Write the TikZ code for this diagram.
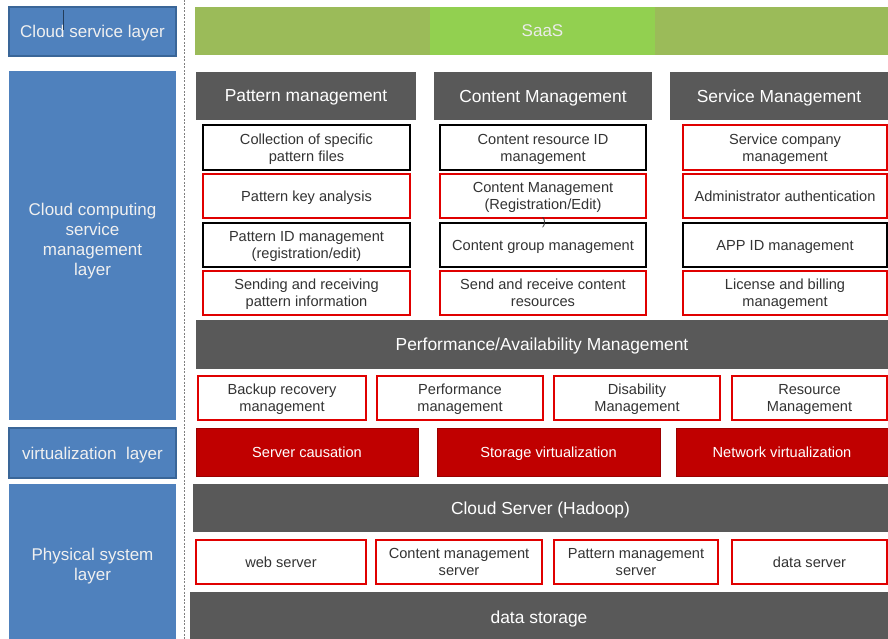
\documentclass[tikz,border=0pt]{standalone}
\usepackage{fontspec}
\setmainfont{Liberation Sans}
\definecolor{layerblue}{HTML}{4F81BD}
\definecolor{layeredge}{HTML}{3A6698}
\definecolor{bargray}{HTML}{595959}
\definecolor{saasgreen}{HTML}{9BBB59}
\definecolor{saaslight}{HTML}{92D050}
\definecolor{boxred}{HTML}{E00000}
\definecolor{virtred}{HTML}{C00000}
\definecolor{virtedge}{HTML}{9A0000}
\definecolor{boxtext}{HTML}{333333}
\tikzset{
  every node/.style={inner sep=0pt, align=center, text depth=0pt},
  layer/.style={fill=layerblue, text=white!94!black, font=\fontsize{17}{20}\selectfont},
  layeredged/.style={layer, draw=layeredge, line width=1.5pt},
  bar/.style={fill=bargray, text=white, font=\fontsize{17.4}{20}\selectfont},
  rbox/.style={draw=boxred, line width=2pt, fill=white, text=boxtext, font=\fontsize{14.6}{17}\selectfont},
  kbox/.style={draw=black, line width=2pt, fill=white, text=boxtext, font=\fontsize{14.6}{17}\selectfont},
  vbox/.style={fill=virtred, draw=virtedge, line width=1pt, text=white, font=\fontsize{14.6}{17}\selectfont},
  sz/.style 2 args={minimum width=#1pt, minimum height=#2pt},
}
\begin{document}
\begin{tikzpicture}[x=1pt,y=-1pt]
\useasboundingbox (0,0) rectangle (888,639);
\fill[white] (0,0) rectangle (888,639);
% left layers
\node[layeredged, sz={167}{49}] (l1) at (92.5,31.5) {Cloud service layer};
\draw[layeredge!60!black, line width=0.6pt] (63,10) -- (63,30);
\node[layer, sz={167}{349}] (l2) at (92.5,245.5) {};
\node[layer, fill=none] (l2t) at (92.5,239) {Cloud computing\\service\\management\\layer};
\node[layeredged, sz={167}{50}] (l3) at (92.5,453) {virtualization\ \ layer};
\node[layer, sz={167}{160}] (l4) at (92.5,564) {Physical system\\layer};
% divider
\draw[gray, line width=1pt, dash pattern=on 2pt off 1.5pt] (184,0) -- (184,639);
% SaaS
\node[fill=saasgreen, sz={693}{48}] (saas) at (541.5,31) {};
\node[fill=saaslight, sz={225}{48}, text=white!92!black, font=\fontsize{17}{20}\selectfont] (saasl) at (542.5,31) {SaaS};
% headers
\node[bar, sz={220}{48}] (hp) at (306,96) {Pattern management};
\node[bar, sz={218}{48}] (hc) at (543,96) {Content Management};
\node[bar, sz={218}{48}] (hs) at (779,96) {Service Management};
% pattern column
\node[kbox, sz={207}{45}] (p1) at (306.5,147.5) {Collection of specific\\pattern files};
\node[rbox, sz={207}{44}] (p2) at (306.5,196) {Pattern key analysis};
\node[kbox, sz={207}{44}] (p3) at (306.5,245) {Pattern ID management\\(registration/edit)};
\node[rbox, sz={207}{44}] (p4) at (306.5,293) {Sending and receiving\\pattern information};
% content column
\node[kbox, sz={206}{45}] (c1) at (543,147.5) {Content resource ID\\management};
\node[rbox, sz={206}{44}] (c2) at (543,196) {Content Management\\(Registration/Edit)};
\node[kbox, sz={206}{44}] (c3) at (543,245) {Content group management};
\node[rbox, sz={206}{44}] (c4) at (543,293) {Send and receive content\\resources};
\node[text=boxtext, font=\fontsize{11}{12}\selectfont] (paren) at (544,222) {)};
% service column
\node[rbox, sz={204}{45}] (s1) at (785,147.5) {Service company\\management};
\node[rbox, sz={204}{44}] (s2) at (785,196) {Administrator authentication};
\node[kbox, sz={204}{44}] (s3) at (785,245) {APP ID management};
\node[rbox, sz={204}{44}] (s4) at (785,293) {License and billing\\management};
% performance
\node[bar, sz={692}{49}] (perf) at (542,344.5) {Performance/Availability Management};
\node[rbox, sz={168}{44}] (m1) at (282,398) {Backup recovery\\management};
\node[rbox, sz={166}{44}] (m2) at (460,398) {Performance\\management};
\node[rbox, sz={166}{44}] (m3) at (637,398) {Disability\\Management};
\node[rbox, sz={155}{44}] (m4) at (809.5,398) {Resource\\Management};
% virtualization
\node[vbox, sz={222}{48}] (v1) at (307,452) {Server causation};
\node[vbox, sz={223}{48}] (v2) at (548.5,452) {Storage virtualization};
\node[vbox, sz={212}{48}] (v3) at (782,452) {Network virtualization};
% physical
\node[bar, sz={695}{48}] (cs) at (540.5,508) {Cloud Server (Hadoop)};
\node[rbox, sz={170}{44}] (w1) at (281,562) {web server};
\node[rbox, sz={166}{44}] (w2) at (459,562) {Content management\\server};
\node[rbox, sz={164}{44}] (w3) at (636,562) {Pattern management\\server};
\node[rbox, sz={155}{44}] (w4) at (809.5,562) {data server};
\node[bar, sz={698}{50}] (ds) at (539,617) {data storage};
\end{tikzpicture}
\end{document}
